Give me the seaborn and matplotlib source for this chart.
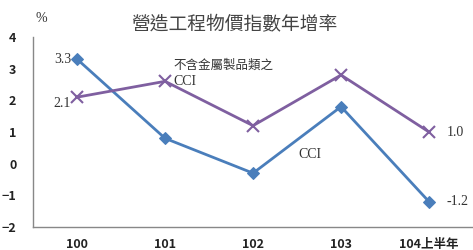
import matplotlib
matplotlib.use("Agg")
import matplotlib.pyplot as plt
import seaborn as sns
import pandas as pd

years = ["100", "101", "102", "103", "104上半年"]
cci = [3.3, 0.8, -0.3, 1.8, -1.2]
cci_no_metal = [2.1, 2.6, 1.2, 2.8, 1.0]

sns.set_style("white")
plt.rcParams['font.family'] = ['Noto Sans CJK TC', 'DejaVu Sans']

df = pd.DataFrame({"x": range(len(years)), "cci": cci, "cci2": cci_no_metal})

fig = plt.figure(figsize=(4.73, 2.5), dpi=100)
ax = fig.add_axes([0.07, 0.092, 0.93, 0.76])

sns.lineplot(data=df, x="x", y="cci", ax=ax, color="#4a7ebb", lw=2,
             marker="D", markersize=6, markeredgecolor="#4a7ebb")
sns.lineplot(data=df, x="x", y="cci2", ax=ax, color="#7f5fa0", lw=2,
             marker="x", markersize=8, markeredgewidth=1.5, markeredgecolor="#7f5fa0")

ax.set_xlim(-0.5, 4.5)
ax.set_ylim(-2, 4)
ax.set_yticks(range(-2, 5))
ax.set_xticks(range(len(years)))
ax.set_xticklabels(years)
ax.set_xlabel("")
ax.set_ylabel("")
ax.tick_params(axis="both", length=0, labelsize=9, colors="#222222")
ax.tick_params(axis="y", pad=12)
ax.tick_params(axis="x", pad=8)
for lab in ax.get_xticklabels() + ax.get_yticklabels():
    lab.set_fontweight("bold")
for s in ["top", "right"]:
    ax.spines[s].set_visible(False)
for s in ["left", "bottom"]:
    ax.spines[s].set_color("#888888")
    ax.spines[s].set_linewidth(1)

serif = "Liberation Serif"
c = "#333333"
ax.text(-0.07, cci[0], "3.3", ha="right", va="center", fontsize=10, family=serif, color=c)
ax.text(-0.07, cci_no_metal[0] - 0.2, "2.1", ha="right", va="center", fontsize=10, family=serif, color=c)
ax.text(4.2, cci_no_metal[4], "1.0", ha="left", va="center", fontsize=10, family=serif, color=c)
ax.text(4.2, cci[4], "-1.2", ha="left", va="center", fontsize=10, family=serif, color=c)
ax.text(2.52, 0.3, "CCI", ha="left", va="center", fontsize=10, family=serif, color=c)
ax.text(1.1, 2.6, "CCI", ha="left", va="center", fontsize=10, family=serif, color=c)
ax.text(1.1, 3.1, "不含金屬製品類之", ha="left", va="center", fontsize=9, color=c)

fig.text(0.075, 0.925, "%", ha="left", va="center", fontsize=10, family=serif, color=c)
fig.text(0.495, 0.9, "營造工程物價指數年增率", ha="center", va="center", fontsize=13.5,
         fontweight="light", color="#444444")

fig.savefig("out.png", dpi=100)
